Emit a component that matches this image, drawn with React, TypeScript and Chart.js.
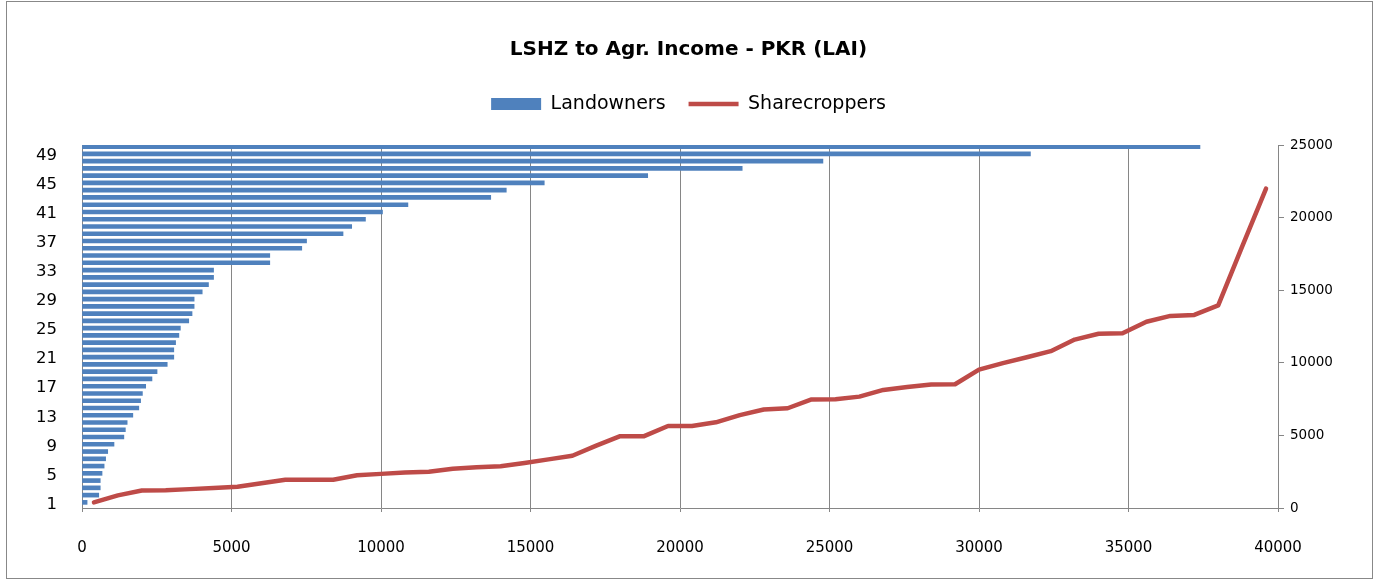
import React, { useEffect, useRef } from 'react';
import { Chart, registerables } from 'chart.js';

Chart.register(...registerables);

// Category labels (respondent rank 1..50)
const categories = [
  '1', '2', '3', '4', '5', '6', '7', '8', '9', '10',
  '11', '12', '13', '14', '15', '16', '17', '18', '19', '20',
  '21', '22', '23', '24', '25', '26', '27', '28', '29', '30',
  '31', '32', '33', '34', '35', '36', '37', '38', '39', '40',
  '41', '42', '43', '44', '45', '46', '47', '48', '49', '50',
];

// Tick labels shown on the left category axis
const leftTickLabels = ['1', '5', '9', '13', '17', '21', '25', '29', '33', '37', '41', '45', '49'];

// Landowners (bars, bottom axis 0..40000)
const landowners = [
  170, 560, 610, 610, 670, 740, 790, 860, 1070, 1400,
  1450, 1510, 1700, 1900, 1960, 2020, 2130, 2340, 2510, 2850,
  3070, 3070, 3130, 3240, 3290, 3570, 3680, 3750, 3750, 4020,
  4230, 4400, 4400, 6280, 6280, 7350, 7510, 8730, 9020, 9480,
  10050, 10900, 13670, 14190, 15460, 18920, 22080, 24780, 31720, 37390,
];

// Sharecroppers (line, right axis 0..25000)
const sharecroppers = [
  390, 870, 1200, 1230, 1300, 1380, 1460, 1700, 1950, 1950,
  1950, 2250, 2350, 2450, 2500, 2700, 2800, 2880, 3100, 3350,
  3600, 4300, 4950, 4950, 5650, 5650, 5900, 6400, 6780, 6870,
  7480, 7490, 7670, 8130, 8330, 8500, 8520, 9530, 9980, 10380,
  10800, 11600, 12000, 12030, 12830, 13230, 13300, 13950, 18000, 22000,
];

const FONT = "'DejaVu Sans', sans-serif";
const GRID = '#868686';

export default function App() {
  const ref = useRef<HTMLCanvasElement>(null);

  useEffect(() => {
    const canvas = ref.current;
    if (!canvas) return;
    const chart = new Chart(canvas, {
      type: 'bar',
      data: {
        labels: categories,
        datasets: [
          {
            type: 'bar',
            label: 'Landowners',
            data: landowners,
            xAxisID: 'x',
            yAxisID: 'y',
            backgroundColor: '#4F81BD',
            barThickness: 4,
            order: 2,
            pointStyle: 'rect',
          } as any,
          {
            type: 'line',
            label: 'Sharecroppers',
            data: sharecroppers,
            indexAxis: 'x',
            xAxisID: 'x2',
            yAxisID: 'y2',
            borderColor: '#BE4B48',
            backgroundColor: '#BE4B48',
            borderWidth: 4.5,
            pointRadius: 0,
            tension: 0,
            order: 1,
            pointStyle: 'line',
            borderJoinStyle: 'round',
            borderCapStyle: 'round',
          } as any,
        ],
      },
      options: {
        indexAxis: 'y',
        responsive: false,
        animation: false,
        layout: { padding: 0 },
        plugins: {
          title: {
            display: true,
            text: 'LSHZ to Agr. Income - PKR (LAI)',
            color: '#000',
            font: { family: FONT, size: 20, weight: 'bold' },
            padding: { top: 38, bottom: 9.5 },
          },
          legend: {
            position: 'top',
            labels: {
              usePointStyle: true,
              pointStyleWidth: 50,
              boxHeight: 12,
              padding: 23,
              color: '#000',
              font: { family: FONT, size: 19 },
              sort: (a: any, b: any) => a.datasetIndex - b.datasetIndex,
            },
          },
          tooltip: { enabled: false },
        },
        scales: {
          x: {
            axis: 'x',
            type: 'linear',
            position: 'bottom',
            min: 0,
            max: 40000,
            offset: false,
            ticks: {
              stepSize: 5000,
              color: '#000',
              font: { family: FONT, size: 15 },
              padding: 27,
              maxRotation: 0,
              callback: (v: any) => String(v),
            },
            grid: { color: GRID, lineWidth: 1, tickLength: 4, offset: false },
            border: { color: GRID },
            afterFit: (s: any) => { s.height = 75; },
          },
          y: {
            axis: 'y',
            type: 'category',
            position: 'left',
            reverse: true,
            offset: true,
            ticks: {
              autoSkip: false,
              color: '#000',
              font: { family: FONT, size: 16.5 },
              padding: 25,
              callback: (_v: any, i: number) => (leftTickLabels.includes(categories[i]) ? categories[i] : ''),
            },
            grid: { display: false, drawTicks: false },
            border: { color: GRID },
            afterFit: (s: any) => { s.width = 82; },
          },
          x2: {
            axis: 'x',
            type: 'category',
            position: 'top',
            offset: true,
            ticks: { display: false },
            grid: { display: false, drawTicks: false },
            border: { display: false },
            afterFit: (s: any) => { s.height = 21.5; },
          },
          y2: {
            axis: 'y',
            type: 'linear',
            position: 'right',
            min: 0,
            max: 25000,
            offset: false,
            ticks: {
              stepSize: 5000,
              color: '#000',
              font: { family: FONT, size: 13.5 },
              padding: 6,
              callback: (v: any) => String(v),
            },
            grid: { drawOnChartArea: false, color: GRID, tickLength: 6, offset: false },
            border: { color: GRID },
            afterFit: (s: any) => { s.width = 99; },
          },
        } as any,
      },
    });
    return () => chart.destroy();
  }, []);

  return (
    <div style={{ position: 'absolute', left: 0, top: 0, width: 1377, height: 583, background: '#fff' }}>
      <canvas ref={ref} width={1377} height={583} style={{ display: 'block' }} />
      <div
        style={{
          position: 'absolute',
          left: 6,
          top: 1,
          width: 1367,
          height: 578,
          border: '1px solid #888',
          boxSizing: 'border-box',
          pointerEvents: 'none',
        }}
      />
    </div>
  );
}
